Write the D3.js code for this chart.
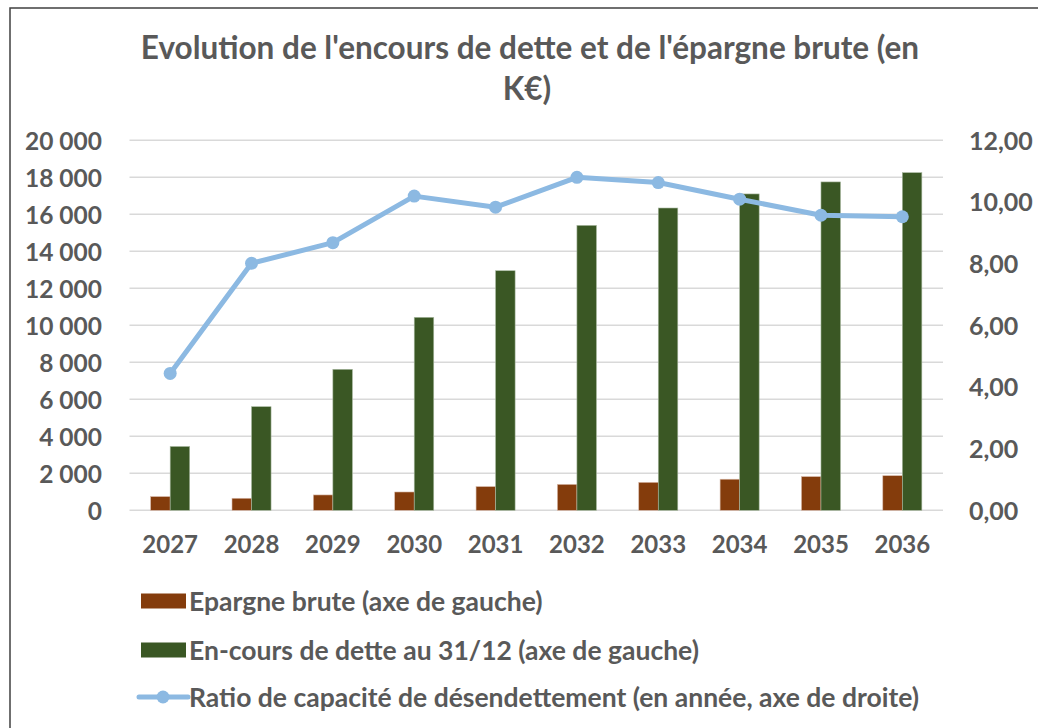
<!DOCTYPE html>
<html>
<head>
<meta charset="utf-8">
<script src="https://cdn.jsdelivr.net/npm/d3@7"></script>
<style>
  body { margin: 0; background: #fff; }
  text { font-family: Lato, "Open Sans", sans-serif; font-weight: bold; fill: #595959; }
</style>
</head>
<body>
<div id="chart"></div>
<script>
// data
var years = ["2027", "2028", "2029", "2030", "2031", "2032", "2033", "2034", "2035", "2036"];
var epargne = [740, 650, 830, 990, 1280, 1400, 1510, 1680, 1820, 1870];
var encours = [3450, 5600, 7620, 10430, 12950, 15400, 16340, 17100, 17750, 18250];
var ratio = [4.44, 8.01, 8.68, 10.19, 9.83, 10.80, 10.63, 10.09, 9.57, 9.52];
var leftTicks = [0, 2000, 4000, 6000, 8000, 10000, 12000, 14000, 16000, 18000, 20000];
var rightTicks = [0, 2, 4, 6, 8, 10, 12];
var legendLabels = [
  "Epargne brute (axe de gauche)",
  "En-cours de dette au 31/12 (axe de gauche)",
  "Ratio de capacité de désendettement (en année, axe de droite)"
];

var W = 1038, H = 728;
var colBrown = "#843c0c", colGreen = "#3a5724", colLine = "#8cb9e2";

var svg = d3.select("#chart").append("svg")
  .attr("width", W).attr("height", H);

// outer frame
svg.append("rect")
  .attr("x", 10).attr("y", 8)
  .attr("width", W + 20).attr("height", H + 20)
  .attr("fill", "none").attr("stroke", "#404040").attr("stroke-width", 1.5);

// title
svg.append("text")
  .attr("x", 530).attr("y", 59)
  .attr("text-anchor", "middle")
  .style("font-size", "31.5px")
  .text("Evolution de l'encours de dette et de l'épargne brute (en");
svg.append("text")
  .attr("x", 527).attr("y", 100)
  .attr("text-anchor", "middle")
  .style("font-size", "31.5px")
  .text("K€)");

var plotLeft = 129.5, plotRight = 943, plotTop = 140.3, plotBottom = 510.3;

var x0 = d3.scaleBand().domain(years).range([plotLeft, plotRight]);
var x1 = d3.scaleBand().domain(["ep", "en"])
  .range([x0.bandwidth() * 0.26, x0.bandwidth() * 0.74]);
var yL = d3.scaleLinear().domain([0, 20000]).range([plotBottom, plotTop]);
var yR = d3.scaleLinear().domain([0, 12]).range([plotBottom, plotTop]);

// gridlines
svg.append("g").selectAll("line")
  .data(leftTicks)
  .enter().append("line")
  .attr("x1", plotLeft).attr("x2", plotRight)
  .attr("y1", function(d) { return yL(d); })
  .attr("y2", function(d) { return yL(d); })
  .attr("stroke", "#d9d9d9").attr("stroke-width", 1.5);

// left axis
var yAxisL = svg.append("g")
  .attr("transform", "translate(102,0)")
  .call(d3.axisLeft(yL).tickValues(leftTicks).tickSize(0).tickPadding(0)
    .tickFormat(function(d) { return d3.format(",")(d).replace(",", " "); }));
yAxisL.select(".domain").remove();
yAxisL.selectAll("text").style("font-size", "24.5px").attr("fill", "#595959").attr("dy", "0.36em");

// right axis
var yAxisR = svg.append("g")
  .attr("transform", "translate(969,0)")
  .call(d3.axisRight(yR).tickValues(rightTicks).tickSize(0).tickPadding(0)
    .tickFormat(function(d) { return d3.format(".2f")(d).replace(".", ","); }));
yAxisR.select(".domain").remove();
yAxisR.selectAll("text").style("font-size", "25px").attr("fill", "#595959").attr("dy", "0.36em");

// x axis
var xAxis = svg.append("g")
  .attr("transform", "translate(0," + 536 + ")")
  .call(d3.axisBottom(x0).tickSize(0).tickPadding(0));
xAxis.select(".domain").remove();
xAxis.selectAll("text").style("font-size", "24px").attr("fill", "#595959").attr("dy", "0.71em");

// bars
var groups = svg.append("g").selectAll("g")
  .data(years)
  .enter().append("g")
  .attr("transform", function(d) { return "translate(" + x0(d) + ",0)"; });

groups.append("rect")
  .attr("x", x1("ep")).attr("width", x1.bandwidth())
  .attr("y", function(d, i) { return yL(epargne[i]); })
  .attr("height", function(d, i) { return plotBottom - yL(epargne[i]); })
  .attr("fill", colBrown).attr("stroke", "#d8b8a8").attr("stroke-width", 0.6);

groups.append("rect")
  .attr("x", x1("en")).attr("width", x1.bandwidth())
  .attr("y", function(d, i) { return yL(encours[i]); })
  .attr("height", function(d, i) { return plotBottom - yL(encours[i]); })
  .attr("fill", colGreen).attr("stroke", "#a8b8a0").attr("stroke-width", 0.6);

// ratio line
var line = d3.line()
  .x(function(d, i) { return x0(years[i]) + x0.bandwidth() / 2; })
  .y(function(d) { return yR(d); });

svg.append("path")
  .datum(ratio)
  .attr("d", line)
  .attr("fill", "none")
  .attr("stroke", colLine).attr("stroke-width", 5)
  .attr("stroke-linejoin", "round");

svg.append("g").selectAll("circle")
  .data(ratio)
  .enter().append("circle")
  .attr("cx", function(d, i) { return x0(years[i]) + x0.bandwidth() / 2; })
  .attr("cy", function(d) { return yR(d); })
  .attr("r", 6.5)
  .attr("fill", colLine);

// legend
var legY = [601, 650, 697];
var leg = svg.append("g");
leg.append("rect").attr("x", 141).attr("y", legY[0] - 7.5).attr("width", 45).attr("height", 15).attr("fill", colBrown);
leg.append("rect").attr("x", 141).attr("y", legY[1] - 7.5).attr("width", 45).attr("height", 15).attr("fill", colGreen);
leg.append("line").attr("x1", 139).attr("x2", 188).attr("y1", legY[2]).attr("y2", legY[2])
  .attr("stroke", colLine).attr("stroke-width", 5).attr("stroke-linecap", "round");
leg.append("circle").attr("cx", 163).attr("cy", legY[2]).attr("r", 6.5).attr("fill", colLine);

leg.selectAll("text")
  .data(legendLabels)
  .enter().append("text")
  .attr("x", 189)
  .attr("y", function(d, i) { return legY[i]; })
  .attr("dy", "0.36em")
  .style("font-size", "26.5px")
  .text(function(d) { return d; });
</script>
</body>
</html>
